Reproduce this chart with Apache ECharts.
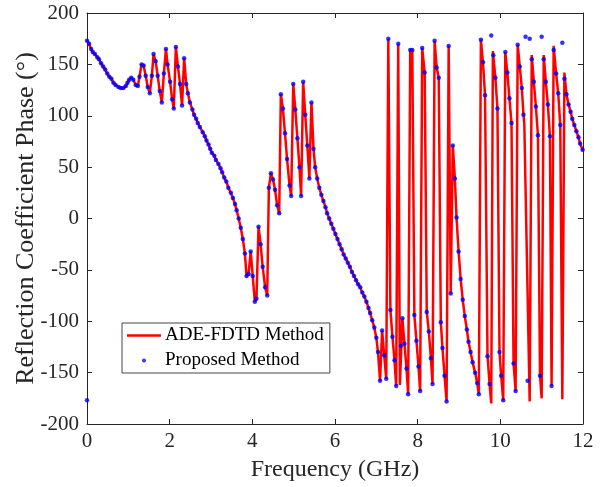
<!DOCTYPE html>
<html>
<head>
<meta charset="utf-8">
<script src="https://cdn.jsdelivr.net/npm/echarts@6/dist/echarts.min.js"></script>
<style>
  html, body { margin: 0; padding: 0; background: #fff; }
  #chart { width: 608px; height: 487px; }
</style>
</head>
<body>
<div id="chart"></div>
<script>
'use strict';
// DATOS
const xTicks = [0, 2, 4, 6, 8, 10, 12];
const yTicks = [-200, -150, -100, -50, 0, 50, 100, 150, 200];

// Proposed Method (puntos azules)
const dotFreq = [
  0, 0, 0.05, 0.1, 0.14, 0.19, 0.25, 0.29, 0.34, 0.39, 0.44, 0.49, 0.54, 0.59, 0.64, 0.69, 0.76, 0.82, 0.88, 0.94,
  0.98, 1.02, 1.07, 1.12, 1.18, 1.23, 1.27, 1.32, 1.37, 1.42, 1.47, 1.52, 1.57, 1.61, 1.66, 1.71, 1.76, 1.81, 1.86, 1.91,
  1.95, 2.01, 2.06, 2.10, 2.15, 2.20, 2.25, 2.30, 2.35, 2.40, 2.44, 2.49, 2.55, 2.59, 2.64, 2.68, 2.73, 2.80, 2.85, 2.89,
  2.94, 2.98, 3.02, 3.08, 3.12, 3.18, 3.23, 3.27, 3.32, 3.37, 3.42, 3.48, 3.53, 3.58, 3.62, 3.67, 3.72, 3.77, 3.82, 3.86,
  3.91, 3.96, 4.01, 4.06, 4.10, 4.15, 4.20, 4.25, 4.31, 4.36, 4.40, 4.45, 4.50, 4.55, 4.60, 4.65, 4.69, 4.74, 4.79, 4.84,
  4.90, 4.94, 4.99, 5.04, 5.09, 5.14, 5.18, 5.23, 5.28, 5.33, 5.38, 5.43, 5.48, 5.52, 5.57, 5.62, 5.67, 5.72, 5.77, 5.81,
  5.86, 5.91, 5.96, 6.01, 6.06, 6.11, 6.16, 6.21, 6.26, 6.31, 6.36, 6.41, 6.46, 6.51, 6.56, 6.61, 6.66, 6.71, 6.76, 6.81,
  6.85, 6.90, 6.95, 7.00, 7.04, 7.09, 7.14, 7.19, 7.24, 7.29, 7.34, 7.39, 7.44, 7.48, 7.53, 7.59, 7.63, 7.68, 7.73, 7.77,
  7.82, 7.87, 7.92, 7.97, 8.02, 8.06, 8.11, 8.17, 8.22, 8.27, 8.32, 8.36, 8.41, 8.46, 8.51, 8.56, 8.60, 8.65, 8.70, 8.75,
  8.80, 8.85, 8.90, 8.94, 8.99, 9.04, 9.09, 9.14, 9.19, 9.23, 9.28, 9.33, 9.39, 9.44, 9.48, 9.53, 9.58, 9.63, 9.69, 9.74,
  9.78, 9.83, 9.88, 9.93, 9.98, 10.02, 10.07, 10.12, 10.17, 10.22, 10.27, 10.32, 10.37, 10.42, 10.47, 10.52, 10.56, 10.61, 10.66, 10.71,
  10.76, 10.81, 10.86, 10.91, 10.96, 11.00, 11.05, 11.10, 11.15, 11.20, 11.24, 11.29, 11.35, 11.40, 11.45, 11.50, 11.55, 11.60, 11.65, 11.70,
  11.74, 11.79, 11.84, 11.89, 11.93, 11.99,
];
const dotPhase = [
  173, -177, 170, 165, 162, 160, 157, 155, 151, 148, 145, 141, 138, 136, 132, 130, 128, 127, 127, 129,
  132, 135, 137, 135, 130, 129, 138, 150, 149, 139, 128, 122, 139, 160, 153, 139, 124, 113, 141, 165,
  150, 133, 116, 107, 167, 148, 131, 110, 156, 131, 122, 113, 106, 101, 97, 93, 89, 84, 80, 76,
  72, 68, 64, 61, 57, 53, 49, 45, 40, 36, 30, 25, 20, 14, 8, 0, -9, -20, -34, -56,
  -54, -32, -56, -81, -78, -8, -25, -47, -67, -75, 30, 44, 38, 28, 13, 5, 121, 107, 83, 58,
  32, 22, 131, 106, 78, 50, 22, 133, 101, 71, 39, 113, 68, 50, 39, 30, 23, 17, 11, 5,
  0, -5, -10, -15, -20, -25, -30, -35, -39, -43, -47, -52, -56, -60, -64, -67, -72, -76, -81, -87,
  -92, -99, -106, -116, -130, -158, -109, -133, -156, 175, -89, -115, -138, -163, 170, -124, -97, -122, -146, -171,
  164, 164, -94, -119, -144, -168, 166, 142, -91, -110, -136, -161, 173, 147, 137, -101, -126, -153, -178, 168,
  -73, 71, 39, 1, -32, -59, -79, -95, -108, -120, -130, -140, -150, -160, -171, 174, 152, 120, -134, -161,
  178, 159, 137, 107, -130, -153, -177, 162, 142, 117, 93, -141, -168, 169, 148, 127, 101, 177, -158, 175,
  155, 133, 109, 81, -153, 177, 155, 133, 111, 80, -163, 164, 141, 122, 91, 171, 136, 121, 111, 104,
  97, 91, 85, 79, 73, 67,
];

// ADE-FDTD Method (línea roja)
const lineFreq = [
  0, 0.05, 0.1, 0.14, 0.19, 0.25, 0.29, 0.34, 0.39, 0.44, 0.49, 0.54, 0.59, 0.64, 0.69, 0.76, 0.82, 0.88, 0.94,
  0.98, 1.02, 1.07, 1.12, 1.18, 1.23, 1.27, 1.32, 1.37, 1.42, 1.47, 1.52, 1.57, 1.61, 1.66, 1.71, 1.76, 1.81, 1.86, 1.91,
  1.95, 2.01, 2.06, 2.10, 2.15, 2.20, 2.25, 2.30, 2.35, 2.40, 2.44, 2.49, 2.55, 2.59, 2.64, 2.68, 2.73, 2.80, 2.85, 2.89,
  2.94, 2.98, 3.02, 3.08, 3.12, 3.18, 3.23, 3.27, 3.32, 3.37, 3.42, 3.48, 3.53, 3.58, 3.62, 3.67, 3.72, 3.77, 3.82, 3.86,
  3.91, 3.96, 4.01, 4.06, 4.10, 4.15, 4.20, 4.25, 4.31, 4.36, 4.40, 4.45, 4.50, 4.55, 4.60, 4.65, 4.69, 4.74, 4.79, 4.84,
  4.90, 4.94, 4.99, 5.04, 5.09, 5.14, 5.18, 5.23, 5.28, 5.33, 5.38, 5.43, 5.48, 5.52, 5.57, 5.62, 5.67, 5.72, 5.77, 5.81,
  5.86, 5.91, 5.96, 6.01, 6.06, 6.11, 6.16, 6.21, 6.26, 6.31, 6.36, 6.41, 6.46, 6.51, 6.56, 6.61, 6.66, 6.71, 6.76, 6.81,
  6.85, 6.90, 6.95, 7.00, 7.04, 7.09, 7.14, 7.19, 7.24, 7.29, 7.34, 7.39, 7.44, 7.48, 7.53, 7.57, 7.63, 7.68, 7.73, 7.77,
  7.82, 7.87, 7.92, 7.97, 8.02, 8.06, 8.11, 8.17, 8.22, 8.27, 8.32, 8.36, 8.41, 8.46, 8.51, 8.56, 8.60, 8.65, 8.70, 8.75,
  8.80, 8.85, 8.90, 8.94, 8.99, 9.04, 9.09, 9.14, 9.19, 9.23, 9.28, 9.33, 9.39, 9.44, 9.48, 9.53, 9.58, 9.63, 9.69, 9.74,
  9.78, 9.82, 9.88, 9.93, 9.98, 10.02, 10.07, 10.12, 10.17, 10.22, 10.27, 10.32, 10.37, 10.42, 10.47, 10.52, 10.56, 10.58, 10.71,
  10.76, 10.81, 10.86, 10.91, 10.96, 11.00, 11.05, 11.10, 11.15, 11.20, 11.24, 11.29, 11.35, 11.40, 11.45, 11.50, 11.55, 11.60, 11.65, 11.70,
  11.74, 11.79, 11.84, 11.89, 11.93, 11.99, 12,
];
const linePhase = [
  174, 170, 165, 162, 160, 157, 155, 151, 148, 145, 141, 138, 136, 132, 130, 128, 127, 127, 129,
  132, 135, 137, 135, 130, 129, 138, 150, 149, 139, 128, 122, 139, 160, 153, 139, 124, 113, 141, 165,
  150, 133, 116, 107, 167, 148, 131, 110, 156, 131, 122, 113, 106, 101, 97, 93, 89, 84, 80, 76,
  72, 68, 64, 61, 57, 53, 49, 45, 40, 36, 30, 25, 20, 14, 8, 0, -9, -20, -34, -56,
  -54, -32, -56, -81, -78, -8, -25, -47, -67, -75, 30, 44, 38, 28, 13, 5, 121, 107, 83, 58,
  32, 22, 131, 106, 78, 50, 22, 133, 101, 71, 39, 113, 68, 50, 39, 30, 23, 17, 11, 5,
  0, -5, -10, -15, -20, -25, -30, -35, -39, -43, -47, -52, -56, -60, -64, -67, -72, -76, -81, -87,
  -92, -99, -106, -116, -130, -158, -109, -133, -156, 175, -89, -115, -138, -163, 170, -162, -97, -122, -146, -171,
  164, 164, -94, -119, -144, -168, 166, 142, -91, -110, -136, -161, 173, 147, 137, -101, -126, -153, -178, 168,
  -73, 71, 39, 1, -32, -59, -79, -95, -108, -120, -130, -140, -150, -160, -171, 174, 152, 120, -134, -161,
  -180, 163, 137, 107, -130, -153, -177, 162, 142, 117, 93, -141, -168, 169, 148, 127, 101, 92, -178,
  159, 133, 109, 81, -153, -175, 159, 133, 111, 80, -163, 168, 141, 122, 91, -176, 142, 121, 111, 104,
  97, 91, 85, 79, 73, 67, 66,
];

const FONT = '"Liberation Serif", "Times New Roman", serif';
const TEXT_COLOR = '#262626';

// GRÁFICO
const myChart = echarts.init(document.getElementById('chart'));

const lineData = lineFreq.map((f, i) => [f, linePhase[i]]);
const dotData = dotFreq.map((f, i) => [f, dotPhase[i]]);

/**
 * Eje con marcas hacia dentro, estilo MATLAB
 * @param {Object} extra
 * @return {Object}
 */
function boxAxis(extra) {
  return Object.assign({
    type: 'value',
    axisLine: {show: true, onZero: false, lineStyle: {color: TEXT_COLOR, width: 1}},
    axisTick: {show: true, inside: true, length: 5, lineStyle: {color: TEXT_COLOR}},
    splitLine: {show: false},
    axisLabel: {show: false},
  }, extra);
}

const option = {
  animation: false,
  backgroundColor: '#fff',
  grid: {left: 87, right: 25, top: 13, bottom: 63, containLabel: false, outerBoundsMode: 'none'},
  legend: {
    orient: 'vertical',
    left: 122,
    top: 323,
    padding: [3, 6, 3, 5],
    itemGap: 6,
    itemWidth: 34,
    itemHeight: 4,
    backgroundColor: '#fff',
    borderColor: '#444',
    borderWidth: 1,
    textStyle: {fontFamily: FONT, fontSize: 19, color: '#000', padding: [0, 0, 0, -1]},
    data: [
      {name: 'ADE-FDTD Method', icon: 'path://M0,0 H34 V2.5 H0 Z'},
      {name: 'Proposed Method', icon: 'circle'},
    ],
  },
  xAxis: [
    boxAxis({
      min: 0, max: 12, interval: 2,
      position: 'bottom',
      name: 'Frequency (GHz)',
      nameLocation: 'middle',
      nameGap: 34,
      nameTextStyle: {fontFamily: FONT, fontSize: 24, color: TEXT_COLOR},
      axisLabel: {
        show: true, margin: 7, fontFamily: FONT, fontSize: 21, color: TEXT_COLOR,
        formatter: (v) => (xTicks.includes(v) ? String(v) : ''),
      },
    }),
    boxAxis({min: 0, max: 12, interval: 2, position: 'top'}),
  ],
  yAxis: [
    boxAxis({
      min: -200, max: 200, interval: 50,
      position: 'left',
      name: 'Reflection Coefficient Phase (°)',
      nameLocation: 'middle',
      nameGap: 48,
      nameMoveOverlap: false,
      nameTextStyle: {fontFamily: FONT, fontSize: 26, color: TEXT_COLOR},
      axisLabel: {
        show: true, margin: 8, fontFamily: FONT, fontSize: 21, color: TEXT_COLOR,
        formatter: (v) => (yTicks.includes(v) ? String(v) : ''),
      },
    }),
    boxAxis({min: -200, max: 200, interval: 50, position: 'right'}),
  ],
  series: [
    {
      name: 'ADE-FDTD Method',
      type: 'line',
      xAxisIndex: 0,
      yAxisIndex: 0,
      data: lineData,
      symbol: 'none',
      lineStyle: {color: '#ff0000', width: 2.5},
      itemStyle: {color: '#ff0000'},
      z: 2,
    },
    {
      name: 'Proposed Method',
      type: 'scatter',
      xAxisIndex: 0,
      yAxisIndex: 0,
      data: dotData,
      symbol: 'circle',
      symbolSize: 4.5,
      itemStyle: {color: '#0000ff'},
      z: 3,
    },
  ],
};

myChart.setOption(option);
</script>
</body>
</html>
